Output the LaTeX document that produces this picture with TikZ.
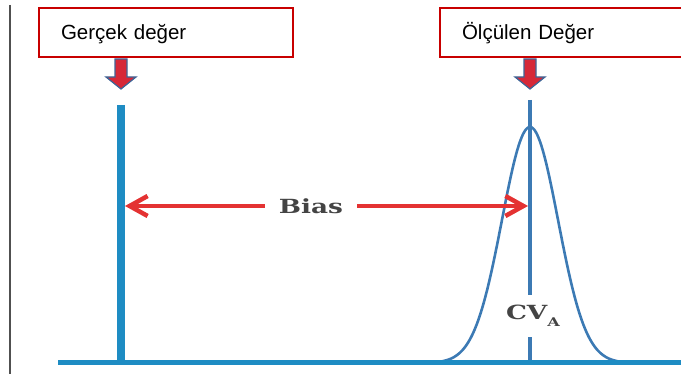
\documentclass[tikz,border=0pt]{standalone}
\usepackage{fontspec}
\setmainfont{Liberation Sans}
\newfontfamily\slabfont[FakeStretch=1.35]{DejaVu Serif}
\usetikzlibrary{arrows.meta,positioning}
\definecolor{boxred}{RGB}{200, 0, 0}
\definecolor{axisblue}{RGB}{30, 140, 195}
\definecolor{curveblue}{RGB}{60, 122, 180}
\definecolor{biasred}{RGB}{228, 50, 50}
\definecolor{labelgray}{RGB}{68, 68, 68}
\definecolor{shaftred}{RGB}{214, 40, 56}
\definecolor{tipblue}{RGB}{62, 100, 150}
\definecolor{framegray}{RGB}{80, 80, 80}

\begin{document}
\begin{tikzpicture}[x=1pt, y=-1pt, >=Latex,
    valbox/.style={draw=boxred, line width=2pt, anchor=north west, minimum height=49pt,
      inner xsep=22pt, inner ysep=0pt, align=left, text height=14.7pt, text depth=0pt,
      font=\fontsize{20.5}{24}\selectfont},
    dwnarrow/.style={fill=shaftred, draw=tipblue, line width=1.2pt, line join=miter},
    biasarrow/.style={biasred, line width=4.5pt, -{Straight Barb[length=18pt, width=20pt]}},
    slablabel/.style={text=labelgray, font=\slabfont\bfseries\fontsize{19.5}{22}\selectfont}]
    \useasboundingbox (0,0) rectangle (681,374);
    \clip (0,0) rectangle (681,374);
    % frame line at the left
    \coordinate (frametop) at (10,5);
    \coordinate (framebot) at (10,374);
    \draw[framegray, line width=2pt] (frametop) -- (framebot);
    % value boxes
    \node[valbox, text width=210pt] (gercek) at (38,7) {Gerçek değer};
    \node[valbox, text width=246pt] (olculen) at (439,7) {Ölçülen Değer};
    % true value line and measured distribution
    \coordinate (ltop) at (121,105);
    \coordinate (lbot) at (121,363);
    \coordinate (rtop) at (530,100);
    \coordinate (rbot) at (530,363);
    \coordinate (bl) at (58,363);
    \coordinate (br) at (690,363);
    \draw[curveblue, line width=2.6pt] plot[smooth, domain=402:658, samples=90]
      (\x, {363 - 236*exp(-0.5*((\x-530)/28)^2)});
    \draw[curveblue, line width=3.2pt] (rtop) -- (rbot);
    \node[slablabel, fill=white, inner sep=0pt, minimum height=42pt, minimum width=62pt]
      (cv) at (533,316) {CV\raisebox{-7pt}{\fontsize{12}{12}\selectfont A}};
    \draw[axisblue, line width=8pt] (ltop) -- (lbot);
    \draw[axisblue, line width=5pt] (bl) -- (br);
    % down arrows from the boxes
    \coordinate (la) at (ltop |- gercek.south);
    \coordinate (ra) at (rtop |- olculen.south);
    \foreach \a in {la, ra}
      \filldraw[dwnarrow, shift={(\a)}] (-6,1) -- (6,1) -- (6,19) -- (15,19) -- (0,31)
        -- (-15,19) -- (-6,19) -- cycle;
    % bias
    \node[slablabel, inner xsep=14pt] (bias) at (311,206) {Bias};
    \draw[biasarrow, shorten >=4pt] (bias.west) -- (bias.west -| ltop);
    \draw[biasarrow, shorten >=2pt] (bias.east) -- (bias.east -| rtop);
  \end{tikzpicture}
\end{document}
